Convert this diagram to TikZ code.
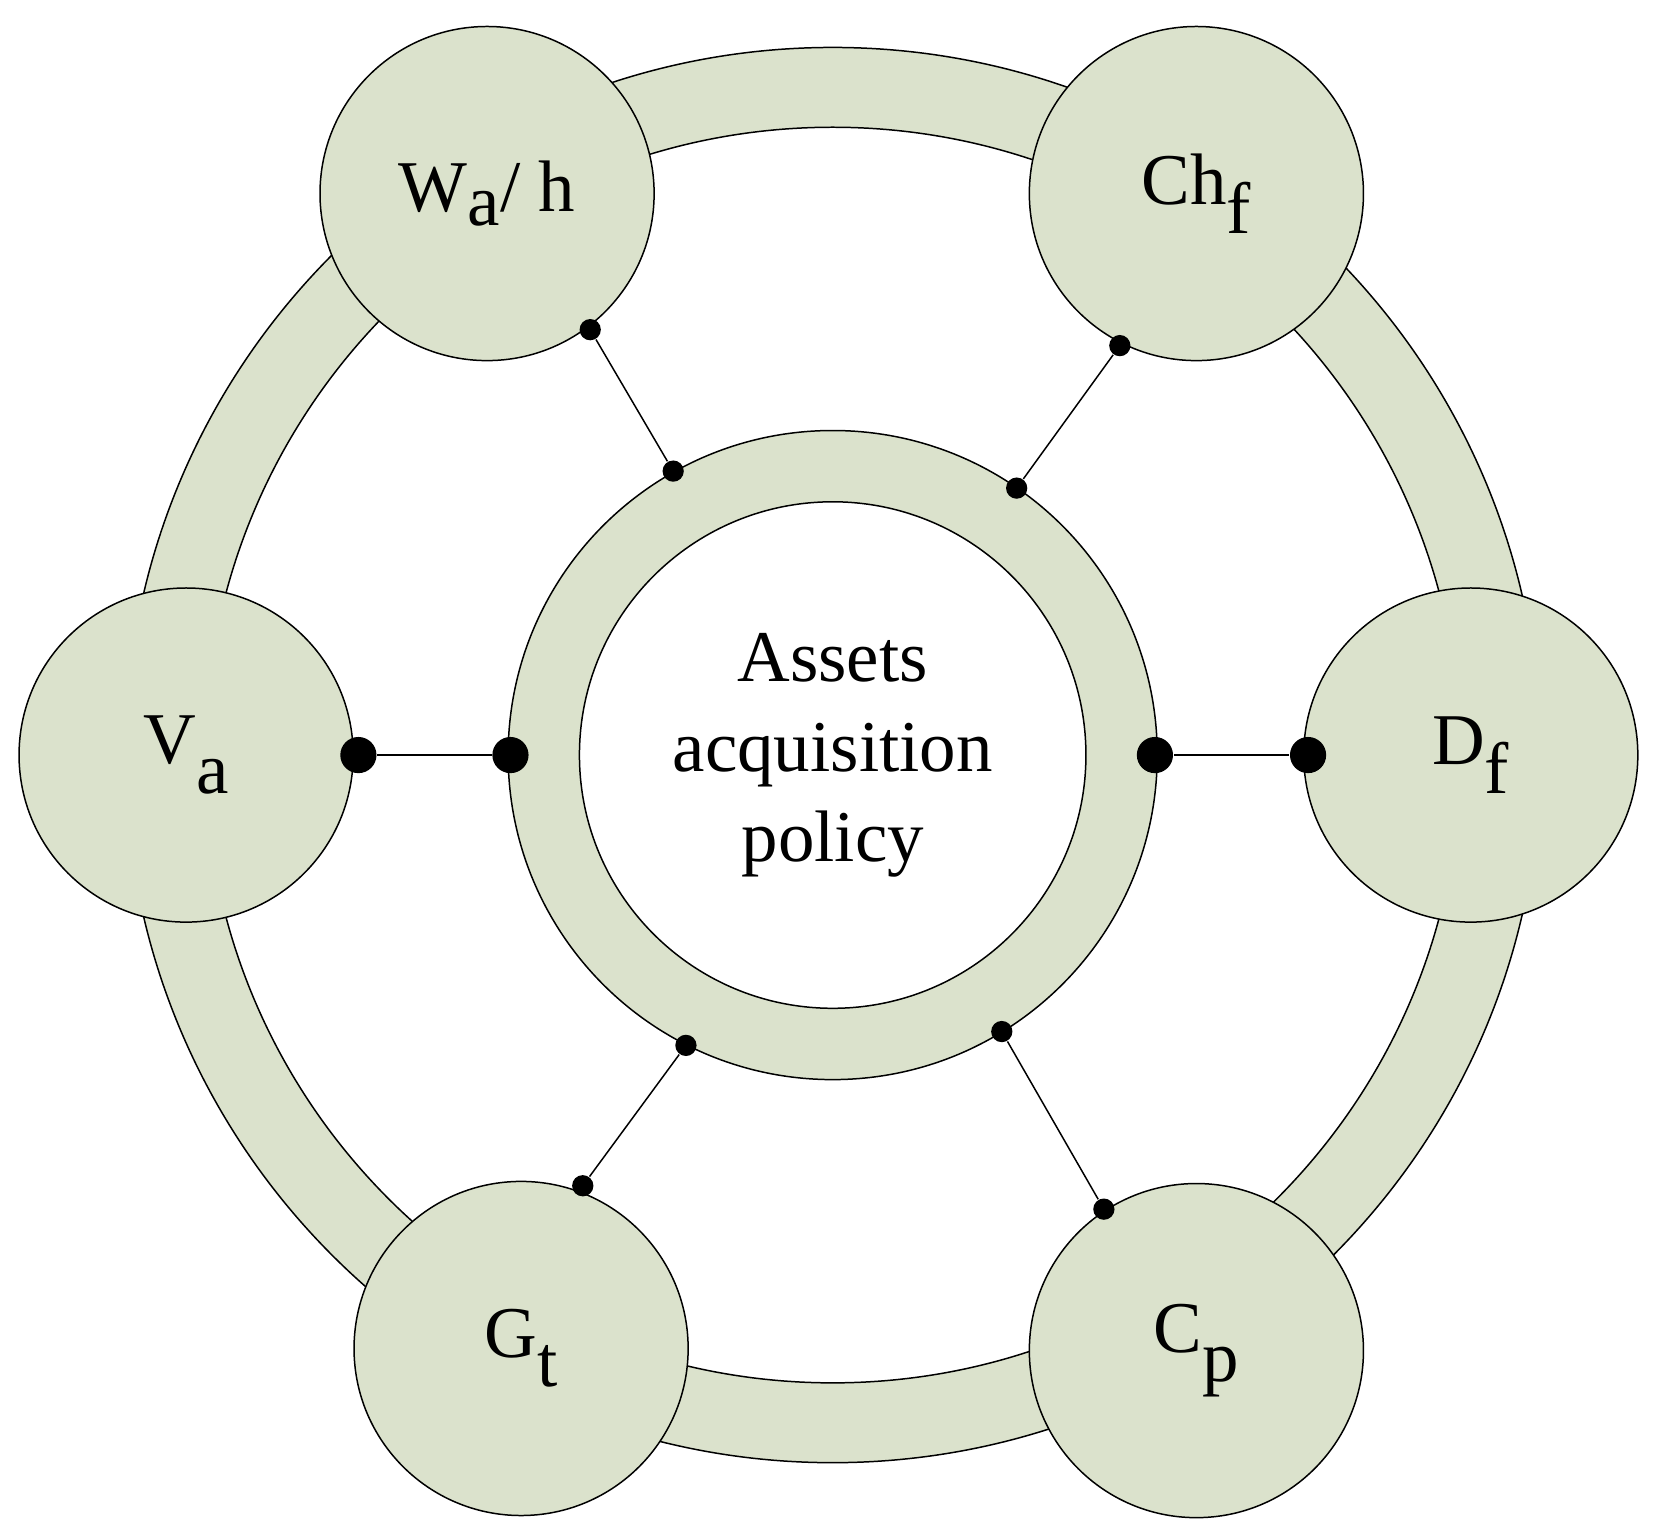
\documentclass[tikz,border=0pt]{standalone}
\usepackage{fontspec}
\setmainfont{Liberation Serif}
\definecolor{sage}{HTML}{DBE2CC}
\newcommand{\lowsub}[1]{\raisebox{-0.4em}{#1}}
\begin{document}
\begin{tikzpicture}[x=0.01cm,y=-0.01cm]
    \tikzstyle{sat}=[draw=black,fill=sage,circle,minimum size=3.14cm,inner sep=0pt,font=\fontsize{19.5}{24}\selectfont]
    \tikzstyle{dot}=[fill=black,circle,inner sep=0pt,minimum size=0.2cm]
    \tikzstyle{bigdot}=[fill=black,circle,inner sep=0pt,minimum size=0.34cm]

    \useasboundingbox (0,0) rectangle (1560,1440);

    % rings
    \coordinate (c) at (783,710);
    \draw[fill=sage,even odd rule] (c) circle (6.65cm) (c) circle (5.9cm);
    \draw[fill=sage] (c) circle (3.05cm);
    \node[draw=black,fill=white,circle,minimum size=4.76cm,align=center,
          font=\fontsize{19.5}{24}\selectfont] (hub) at (c) {Assets\\acquisition\\policy};

    \node[sat] at (458,182) (wa) {W\raisebox{-0.2em}{a}/ h};
    \node[sat] at (1125,182) (ch) {Ch\lowsub{f}};
    \node[sat] at (175,710) (va) {V\lowsub{a}};
    \node[sat] at (1383,710) (df) {D\lowsub{f}};
    \node[sat] at (490,1268) (gt) {G\lowsub{t}};
    \node[sat] at (1125,1270) (cp) {C\lowsub{p}};

    \node[dot] at (555,310) (wa1) {};
    \node[dot] at (633,443) (wa2) {};
    \node[dot] at (1053,325) (ch1) {};
    \node[dot] at (956,459) (ch2) {};
    \node[dot] at (548,1115) (gt1) {};
    \node[dot] at (645,983) (gt2) {};
    \node[dot] at (1038,1137) (cp1) {};
    \node[dot] at (942,970) (cp2) {};
    \node[bigdot] at (337,710) (va1) {};
    \node[bigdot] at (480,710) (va2) {};
    \node[bigdot] at (1230,710) (df1) {};
    \node[bigdot] at (1086,710) (df2) {};

    \draw (wa1) -- (wa2);
    \draw (ch1) -- (ch2);
    \draw (gt1) -- (gt2);
    \draw (cp1) -- (cp2);
    \draw (va1) -- (va2);
    \draw (df1) -- (df2);
\end{tikzpicture}
\end{document}
